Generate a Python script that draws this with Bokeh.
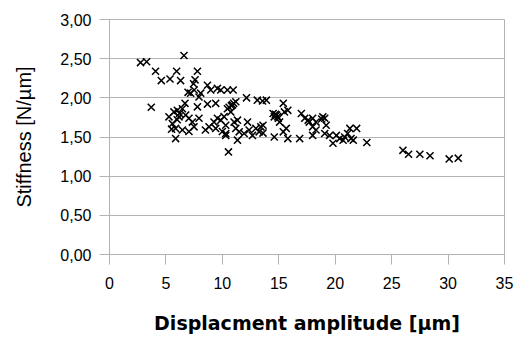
from bokeh.plotting import figure
from bokeh.embed import file_html
from bokeh.resources import INLINE
from bokeh.models import FixedTicker, CustomJSTickFormatter, ColumnDataSource

displacement = [2.75, 3.29, 4.08, 4.59, 5.36, 5.95, 6.3, 6.6, 7.79, 7.58, 7.45, 6.96, 7.19, 7.5,
                8.08, 7.93, 8.68, 8.97, 9.56, 9.86, 10.45, 10.96, 3.7, 12.14, 13.1, 13.56, 13.9,
                15.4, 6.69, 7.79, 8.68, 9.41, 10.45, 10.9, 11.19, 10.75, 5.27, 5.71, 6.01, 6.46,
                6.16, 6.75, 7.04, 7.34, 5.57, 5.86, 6.46, 7.04, 5.86, 7.49, 7.93, 8.82, 9.26,
                9.56, 9.86, 10.15, 10.3, 9.41, 10.0, 10.3, 11.04, 11.34, 11.19, 11.49, 11.93,
                12.37, 12.67, 12.23, 12.97, 13.41, 13.26, 11.34, 10.54, 8.5, 10.3, 14.5, 14.8,
                14.96, 14.6, 15.5, 15.8, 15.07, 15.66, 15.4, 15.8, 14.6, 16.85, 13.6, 13.6, 17.0,
                17.3, 17.6, 17.7, 18.0, 18.3, 18.9, 19.07, 18.0, 18.3, 18.0, 19.2, 19.07, 19.5,
                19.8, 20.1, 20.4, 20.7, 20.84, 21.1, 21.3, 21.6, 21.9, 21.4, 22.8, 26.0, 26.5,
                27.5, 28.4, 30.1, 30.9, 10.6, 10.8, 11.0, 14.7, 14.9, 18.8, 6.2, 6.0, 5.5]
stiffness = [2.45, 2.46, 2.34, 2.22, 2.24, 2.34, 2.22, 2.54, 2.34, 2.23, 2.18, 2.07, 2.06, 2.10,
             2.06, 2.01, 2.16, 2.10, 2.12, 2.10, 2.10, 2.10, 1.88, 2.00, 1.97, 1.96, 1.97,
             1.93, 1.93, 1.885, 1.92, 1.93, 1.86, 1.91, 1.95, 1.82, 1.757, 1.82, 1.84, 1.86,
             1.757, 1.78, 1.74, 1.69, 1.67, 1.61, 1.59, 1.57, 1.48, 1.63, 1.74, 1.63, 1.69,
             1.74, 1.715, 1.76, 1.65, 1.61, 1.57, 1.545, 1.69, 1.715, 1.61, 1.566, 1.545,
             1.59, 1.52, 1.69, 1.61, 1.63, 1.566, 1.46, 1.31, 1.59, 1.52, 1.80, 1.78,
             1.74, 1.757, 1.82, 1.84, 1.69, 1.61, 1.566, 1.48, 1.50, 1.48, 1.55, 1.65, 1.80,
             1.74, 1.715, 1.69, 1.74, 1.69, 1.757, 1.74, 1.63, 1.59, 1.52, 1.65, 1.545, 1.52,
             1.42, 1.52, 1.48, 1.46, 1.50, 1.545, 1.61, 1.46, 1.61, 1.48, 1.43, 1.33, 1.28,
             1.28, 1.26, 1.22, 1.23, 1.88, 1.90, 1.93, 1.79, 1.76, 1.73, 1.80, 1.72, 1.60]

x_ticks = [0, 5, 10, 15, 20, 25, 30, 35]
y_ticks = [0.0, 0.5, 1.0, 1.5, 2.0, 2.5, 3.0]

GRID = "#b3b3b3"
FONT = "Liberation Sans"

p = figure(width=524, height=340, x_range=(0, 35), y_range=(0, 3),
           output_backend="svg", toolbar_location=None,
           min_border_left=109, min_border_right=20, min_border_top=19, min_border_bottom=86)
p.background_fill_color = "white"
p.border_fill_color = "white"
p.outline_line_color = GRID

src = ColumnDataSource(dict(x=displacement, y=stiffness))
p.scatter("x", "y", source=src, marker="x", size=10, line_color="black", line_width=1.5)

p.xgrid.visible = False
p.ygrid.grid_line_color = GRID
p.ygrid.ticker = FixedTicker(ticks=y_ticks)

for ax in (p.xaxis[0], p.yaxis[0]):
    ax.axis_line_color = GRID
    ax.major_tick_line_color = GRID
    ax.major_tick_out = 10
    ax.major_tick_in = 0
    ax.minor_tick_line_color = None
    ax.major_label_text_font = FONT
    ax.major_label_text_font_size = "16px"
    ax.major_label_text_color = "black"
    ax.axis_label_text_font = FONT
    ax.axis_label_text_color = "black"

p.xaxis.ticker = FixedTicker(ticks=x_ticks)
p.yaxis.ticker = FixedTicker(ticks=y_ticks)
p.yaxis.formatter = CustomJSTickFormatter(code="return tick.toFixed(2).replace('.', ',');")

p.xaxis.axis_label = "Displacment amplitude [µm]"
p.xaxis.axis_label_text_font = "DejaVu Sans"
p.xaxis.axis_label_text_font_style = "bold"
p.xaxis.axis_label_text_font_size = "19px"
p.xaxis.major_label_standoff = 12
p.xaxis.axis_label_standoff = 20

p.yaxis.axis_label = "Stiffness [N/µm]"
p.yaxis.axis_label_text_font_style = "normal"
p.yaxis.axis_label_text_font_size = "20px"
p.yaxis.major_label_standoff = 8
p.yaxis.axis_label_standoff = 22

open("out.html", "w").write(file_html(p, INLINE))
